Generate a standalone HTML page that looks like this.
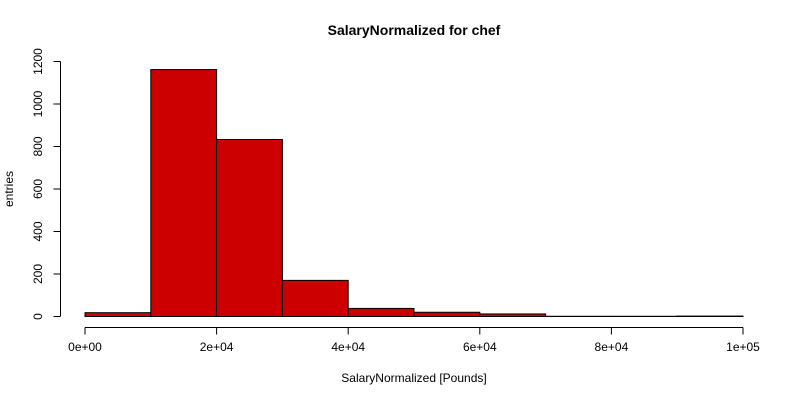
<!DOCTYPE html>
<html><head><meta charset="utf-8"><style>
body{margin:0;background:#fff;}
svg text{font-family:"Liberation Sans",sans-serif;font-size:12px;fill:#000;}
</style></head><body>
<svg id="c" width="800" height="400">
<text x="414" y="35" text-anchor="middle" style="font-weight:bold;font-size:14px">SalaryNormalized for chef</text>
<text x="414" y="382" text-anchor="middle">SalaryNormalized [Pounds]</text>
<text transform="translate(13,189) rotate(-90)" text-anchor="middle">entries</text>
<g id="bars"></g><g id="xa"></g><g id="ya"></g>
</svg>
<script>
const binStarts=[0,10000,20000,30000,40000,50000,60000,70000,80000,90000];
const counts=[18,1162,833,170,38,20,12,1,1,2];
const xTicks=[0,20000,40000,60000,80000,100000];
const xTickLabels=["0e+00","2e+04","4e+04","6e+04","8e+04","1e+05"];
const yTicks=[0,200,400,600,800,1000,1200];
const NS="http://www.w3.org/2000/svg";
const xs=v=>85+v*(743-85)/100000;
const ys=v=>316.5-v*(316.5-61.5)/1200;
function mk(t,a,p){const e=document.createElementNS(NS,t);for(const k in a)e.setAttribute(k,a[k]);p.appendChild(e);return e;}
const bars=document.getElementById('bars');
binStarts.forEach((s,i)=>{
 const r=mk('rect',{x:xs(s),y:ys(counts[i]),width:xs(s+10000)-xs(s),height:Math.max(0.01,ys(0)-ys(counts[i])),fill:'#cd0000',stroke:'#000','stroke-width':1},bars);
 
 
});
const xa=document.getElementById('xa');
mk('line',{x1:xs(0),x2:xs(100000),y1:327.5,y2:327.5,stroke:'#000'},xa);
xTicks.forEach((t,i)=>{
 mk('line',{x1:xs(t),x2:xs(t),y1:327.5,y2:334.5,stroke:'#000'},xa);
 const tx=mk('text',{x:xs(t),y:351,'text-anchor':'middle'},xa);tx.textContent=xTickLabels[i];
 
 
});
const ya=document.getElementById('ya');
mk('line',{x1:60.5,x2:60.5,y1:ys(0),y2:ys(1200),stroke:'#000'},ya);
yTicks.forEach(t=>{
 mk('line',{x1:53.5,x2:60.5,y1:ys(t),y2:ys(t),stroke:'#000'},ya);
 const tx=mk('text',{transform:`translate(42,${ys(t)}) rotate(-90)`,'text-anchor':'middle'},ya);tx.textContent=t;
 
 
});
</script>
</body></html>
